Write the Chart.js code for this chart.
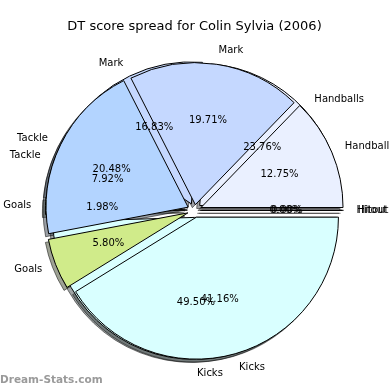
<!DOCTYPE html>
<html>
<head>
<meta charset="utf-8">
<script src="https://cdn.jsdelivr.net/npm/chart.js@4.4.0/dist/chart.umd.min.js"></script>
<style>
  html, body { margin: 0; padding: 0; background: #fff; }
  #wrap { position: relative; width: 390px; height: 390px; }
  #watermark {
    position: absolute; left: 0; top: 373px;
    font: bold 10.5px "DejaVu Sans", sans-serif; color: #9a9a9a;
  }
</style>
</head>
<body>
<div id="wrap">
  <canvas id="pie" width="390" height="390"></canvas>
  <div id="watermark">Dream-Stats.com</div>
</div>
<script>
// ── DATA (matplotlib order: counter-clockwise from 3 o'clock) ──
const TITLE   = 'DT score spread for Colin Sylvia (2006)';
const labelsA = ['Handball', 'Mark', 'Tackle', 'Goals', 'Kicks', 'Hitout'];
const valuesA = [12.75, 19.71, 20.48, 5.80, 41.16, 0.00];
const labelsB = ['Handballs', 'Mark', 'Tackle', 'Goals', 'Kicks', 'Hitout'];
const valuesB = [23.76, 16.83, 7.92, 1.98, 49.50, 0.00];

// ── STYLE ──
const colors   = ['#eaf0ff', '#c5d8ff', '#b3d4ff', '#d0eb8a', '#d9ffff', '#ffe0e0'];
const explodeA = [0.05, 0.04, 0.05, 0.05, 0.05, 0.04];
const explodeB = [0.05, 0.05, 0.05, 0.05, 0.05, 0.05];
const FONT = '"DejaVu Sans", sans-serif';

// Chart.js goes clockwise, so feed everything reversed
const rev = a => a.slice().reverse();

function midOf(arc) { return (arc.startAngle + arc.endAngle) / 2; }

function shift(arc, frac) {
  const a = midOf(arc), d = frac * arc.outerRadius;
  return [Math.cos(a) * d, Math.sin(a) * d];
}

// zero-sized slices are skipped by Chart.js, matplotlib still strokes their edge
function drawWedge(ctx, arc) {
  if (arc.circumference > 0) { arc.draw(ctx); return; }
  ctx.beginPath();
  ctx.moveTo(arc.x, arc.y);
  ctx.lineTo(arc.x + Math.cos(arc.startAngle) * arc.outerRadius,
             arc.y + Math.sin(arc.startAngle) * arc.outerRadius);
  ctx.strokeStyle = arc.options.borderColor;
  ctx.lineWidth = arc.options.borderWidth;
  ctx.stroke();
}

const overlayPies = {
  id: 'overlayPies',
  // both pies share one radius and one centre, like two plt.pie calls
  afterDatasetsUpdate(chart) {
    const R = chart.getDatasetMeta(0).controller.outerRadius;
    chart.data.datasets.forEach((ds, i) => {
      chart.getDatasetMeta(i).data.forEach(arc => { arc.outerRadius = R; arc.innerRadius = 0; });
    });
  },
  // shadows sit below every wedge
  beforeDatasetsDraw(chart) {
    const ctx = chart.ctx;
    [1, 0].forEach(i => {
      const ds = chart.data.datasets[i];
      chart.getDatasetMeta(i).data.forEach((arc, j) => {
        const [dx, dy] = shift(arc, ds.explode[j]);
        ctx.save();
        ctx.translate(dx - 3, dy + 3);
        ctx.filter = 'brightness(0.3)';
        ctx.globalAlpha = 0.5;
        drawWedge(ctx, arc);
        ctx.restore();
      });
    });
  },
  beforeDatasetDraw(chart, args) {
    const ctx = chart.ctx;
    const ds = chart.data.datasets[args.index];
    args.meta.data.forEach((arc, j) => {
      const [dx, dy] = shift(arc, ds.explode[j]);
      ctx.save();
      ctx.translate(dx, dy);
      drawWedge(ctx, arc);
      ctx.restore();
    });
    return false;
  },
  afterDatasetsDraw(chart) {
    const ctx = chart.ctx;
    ctx.save();
    ctx.font = '10px ' + FONT;
    ctx.fillStyle = '#000';
    ctx.textBaseline = 'middle';
    [1, 0].forEach(i => {
      const ds = chart.data.datasets[i];
      chart.getDatasetMeta(i).data.forEach((arc, j) => {
        const a = midOf(arc), R = arc.outerRadius, e = ds.explode[j] * R;
        const c = Math.cos(a), s = Math.sin(a);
        ctx.textAlign = c > 0 ? 'left' : 'right';
        ctx.fillText(ds.names[j], arc.x + c * (e + 1.1 * R), arc.y + s * (e + 1.1 * R));
        ctx.textAlign = 'center';
        ctx.fillText(ds.data[j].toFixed(2) + '%', arc.x + c * (e + 0.6 * R), arc.y + s * (e + 0.6 * R));
      });
    });
    ctx.restore();
  }
};

new Chart(document.getElementById('pie'), {
  type: 'pie',
  data: {
    labels: rev(labelsA),
    datasets: [
      { names: rev(labelsA), data: rev(valuesA), explode: rev(explodeA), backgroundColor: rev(colors) },
      { names: rev(labelsB), data: rev(valuesB), explode: rev(explodeB), backgroundColor: rev(colors) }
    ]
  },
  options: {
    responsive: false,
    animation: false,
    rotation: 90,
    events: [],
    layout: { padding: { left: 52, right: 53, top: 0, bottom: 37 } },
    elements: { arc: { borderColor: '#000', borderWidth: 1, hoverOffset: 0, offset: 0 } },
    plugins: {
      legend: { display: false },
      tooltip: { enabled: false },
      title: {
        display: true, text: TITLE, color: '#000',
        font: { family: FONT, size: 13, weight: 'normal' },
        padding: { top: 19, bottom: 33 }
      }
    }
  },
  plugins: [overlayPies]
});
</script>
</body>
</html>
